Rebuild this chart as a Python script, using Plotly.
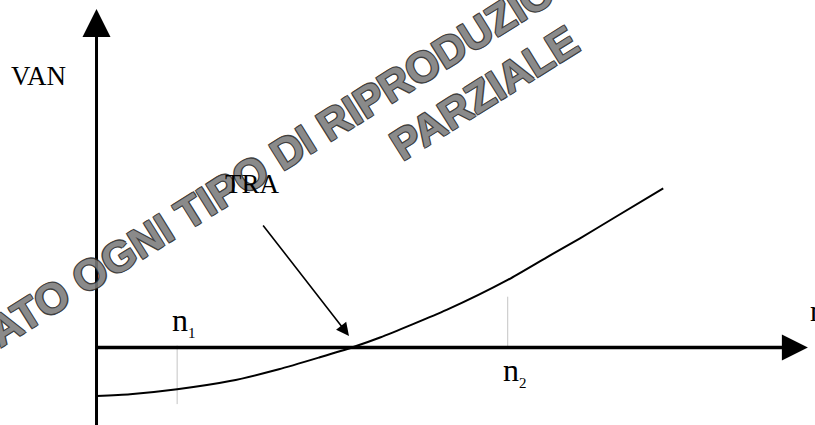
import plotly.graph_objects as go

# VAN curve (x = time, y = VAN)
curve_x = [0, 1.05, 2.52, 4.17, 5.70, 6.98, 7.98, 8.86, 10.94, 12.85, 14.07, 15.11, 16.14, 17.71]
curve_y = [-2.43, -2.34, -2.09, -1.68, -1.09, -0.49, 0.0, 0.50, 1.88, 3.38, 4.51, 5.46, 6.45, 7.96]

# marked points on the time axis
tick_x = [2.52, 12.85]
tick_top = [0.1, 2.54]
tick_bottom = [-2.83, 0.0]
tick_labels = ["n<sub><span style='font-size:15px'>1</span></sub>",
               "n<sub><span style='font-size:15px'>2</span></sub>"]

# axis ends and the TRA point
x_end = 22.23
y_end = 16.93
y_start = -3.9
tra_x = 7.98

watermark = ["VIETATO OGNI TIPO DI RIPRODUZIONE", "PARZIALE"]

serif = "Liberation Serif"

fig = go.Figure()

# tick marks n1, n2
for x, y0, y1 in zip(tick_x, tick_top, tick_bottom):
    fig.add_trace(go.Scatter(x=[x, x], y=[y0, y1], mode="lines",
                             line=dict(color="#c4c4c4", width=1), hoverinfo="skip"))

# axes
fig.add_trace(go.Scatter(x=[0, x_end - 0.75], y=[0, 0], mode="lines",
                         line=dict(color="black", width=3.5), hoverinfo="skip"))
fig.add_trace(go.Scatter(x=[0, 0], y=[y_start, y_end - 1.2], mode="lines",
                         line=dict(color="black", width=3), hoverinfo="skip"))
fig.add_trace(go.Scatter(x=[x_end], y=[0], mode="markers",
                         marker=dict(symbol="arrow-right", size=26, color="black",
                                     line=dict(width=0)), hoverinfo="skip"))
fig.add_trace(go.Scatter(x=[0], y=[y_end], mode="markers",
                         marker=dict(symbol="arrow-up", size=28, color="black",
                                     line=dict(width=0)), hoverinfo="skip"))

# VAN curve
fig.add_trace(go.Scatter(x=curve_x, y=curve_y, mode="lines",
                         line=dict(color="black", width=2, shape="spline", smoothing=0.6),
                         hoverinfo="skip"))

wm_font = dict(family="Liberation Sans", size=43, weight="bold", color="#7a7a7a",
               shadow="1px 1px 0 #262626, -1px -1px 0 #262626, 1px -1px 0 #262626, -1px 1px 0 #262626")

annotations = [
    dict(x=5.0, y=8.9, text=watermark[0], textangle=-32, showarrow=False,
         font=wm_font, opacity=0.88),
    dict(x=12.1, y=12.75, text=watermark[1], textangle=-32, showarrow=False,
         font=wm_font, opacity=0.88),
    dict(x=-1.80, y=13.58, text="VAN", showarrow=False,
         font=dict(family=serif, size=27, color="black")),
    dict(x=4.86, y=8.18, text="TRA", showarrow=False,
         font=dict(family=serif, size=27, color="black")),
    dict(x=tra_x - 0.09, y=0.58, ax=5.17, ay=6.18, axref="x", ayref="y",
         text="", showarrow=True, arrowhead=2, arrowsize=1.6, arrowwidth=1.6,
         arrowcolor="black", standoff=0),
    dict(x=2.72, y=1.28, text=tick_labels[0], showarrow=False,
         font=dict(family=serif, size=32, color="black")),
    dict(x=13.08, y=-1.18, text=tick_labels[1], showarrow=False,
         font=dict(family=serif, size=32, color="black")),
    dict(x=x_end, y=1.83, text="n", showarrow=False, xanchor="left",
         font=dict(family=serif, size=30, color="black")),
]

fig.update_layout(
    width=815,
    height=425,
    margin=dict(l=0, r=0, t=0, b=0),
    paper_bgcolor="white",
    plot_bgcolor="white",
    showlegend=False,
    xaxis=dict(range=[-3.016, 22.453], visible=False, fixedrange=True),
    yaxis=dict(range=[-3.875, 17.375], visible=False, fixedrange=True),
    annotations=annotations,
)

fig.write_html("out.html", config=dict(displayModeBar=False),
               post_script="document.body.style.margin='0';")
